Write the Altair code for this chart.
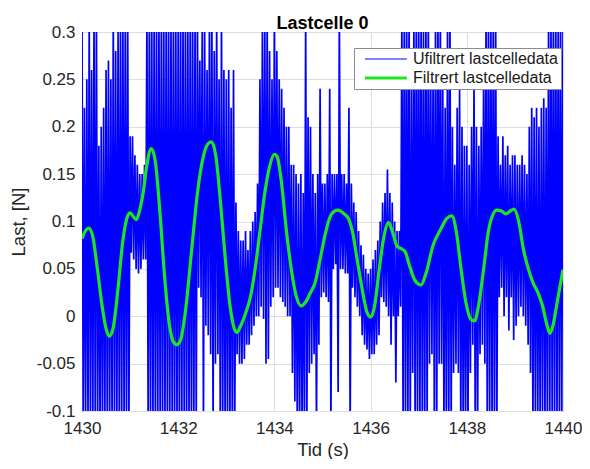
import altair as alt
import pandas as pd

# ---------------- data ----------------
T0 = 1430.0      # first sample bin (s)
DT = 0.05        # bin width (s)

# unfiltered signal: max / min per 0.05 s bin (values past the axis are clipped)
hi_1430 = [0.32, 0.22, 0.25, 0.32, 0.26, 0.32, 0.32, 0.18, 0.20, 0.22,
           0.26, 0.27, 0.25, 0.32, 0.28, 0.30, 0.32, 0.32, 0.32, 0.32]
lo_1430 = [-0.12] * 20
hi_1431 = [0.19, 0.19, 0.17, 0.16, 0.15, 0.15, 0.16, 0.32, 0.32, 0.32,
           0.32, 0.32, 0.32, 0.32, 0.32, 0.32, 0.32, 0.32, 0.32, 0.32]
lo_1431 = [0.067, 0.06, 0.05, 0.045, 0.05, 0.06, 0.06, -0.12, -0.12, -0.12,
           -0.12, -0.12, -0.12, -0.12, -0.12, -0.12, -0.12, -0.12, -0.12, -0.12]
hi_1432 = [0.32, 0.32, 0.32, 0.32, 0.32, 0.32, 0.32, 0.32, 0.32, 0.27,
           0.32, 0.30, 0.26, 0.32, 0.32, 0.28, 0.32, 0.25, 0.32, 0.26]
lo_1432 = [-0.12, -0.12, -0.12, -0.12, -0.12, -0.12, -0.12, -0.12, 0.03, 0.02,
           -0.12, -0.01, -0.02, -0.04, -0.12, -0.05, -0.04, -0.12, -0.12, -0.12]
hi_1433 = [0.25, 0.26, 0.22, 0.26, 0.12, 0.09, 0.08, 0.08, 0.09, 0.07,
           0.09, 0.10, 0.11, 0.14, 0.25, 0.30, 0.32, 0.32, 0.28, 0.25]
lo_1433 = [-0.12, -0.12, -0.12, -0.12, -0.04, -0.05, -0.05, -0.045, -0.03, -0.03,
           -0.02, -0.01, 0.0, 0.0, 0.01, -0.003, -0.05, -0.045, 0.01, 0.02]
hi_1434 = [0.32, 0.28, 0.25, 0.24, 0.22, 0.20, 0.20, 0.16, 0.16, 0.15,
           0.14, 0.15, 0.13, 0.32, 0.21, 0.20, 0.15, 0.13, 0.15, 0.24]
lo_1434 = [0.03, 0.03, 0.02, 0.015, 0.01, 0.0, 0.0, -0.06, -0.09, -0.12,
           -0.12, -0.12, -0.12, -0.12, -0.06, -0.05, -0.04, -0.12, -0.03, 0.02]
hi_1435 = [0.14, 0.14, 0.15, 0.24, 0.15, 0.15, 0.15, 0.32, 0.15, 0.15,
           0.14, 0.22, 0.14, 0.12, 0.11, 0.09, 0.075, 0.065, 0.05, 0.045]
lo_1435 = [0.025, 0.02, 0.015, -0.12, 0.05, 0.055, -0.08, 0.05, 0.05, 0.045,
           0.045, -0.12, 0.03, 0.02, 0.01, 0.0, -0.02, -0.03, -0.035, -0.045]
hi_1436 = [0.05, 0.06, 0.07, 0.08, 0.10, 0.12, 0.13, 0.155, 0.13, 0.12,
           0.10, 0.09, 0.09, 0.32, 0.32, 0.32, 0.32, 0.25, 0.32, 0.32]
lo_1436 = [-0.04, -0.04, -0.03, -0.02, 0.02, 0.015, 0.01, 0.0, -0.03, 0.0,
           -0.07, 0.0, 0.01, -0.12, -0.12, -0.12, -0.12, -0.06, -0.12, -0.12]
hi_1437 = [0.32, 0.32, 0.30, 0.32, 0.32, 0.26, 0.28, 0.32, 0.32, 0.32,
           0.25, 0.22, 0.32, 0.32, 0.20, 0.16, 0.22, 0.24, 0.20, 0.18]
lo_1437 = [-0.12, -0.12, -0.12, -0.12, -0.05, -0.04, -0.12, -0.12, -0.05, -0.05,
           -0.12, -0.12, -0.12, -0.12, -0.06, -0.05, -0.06, -0.12, -0.12, -0.12]
hi_1438 = [0.18, 0.16, 0.20, 0.25, 0.20, 0.18, 0.20, 0.26, 0.32, 0.32,
           0.32, 0.32, 0.32, 0.19, 0.16, 0.19, 0.17, 0.18, 0.16, 0.17]
lo_1438 = [-0.12, -0.06, -0.03, -0.12, -0.12, -0.04, -0.03, -0.05, -0.12, -0.12,
           -0.12, -0.12, -0.12, 0.02, 0.03, 0.0, 0.02, -0.015, 0.02, -0.025]
hi_1439 = [0.17, 0.16, 0.16, 0.17, 0.16, 0.15, 0.20, 0.22, 0.21, 0.22,
           0.20, 0.22, 0.23, 0.22, 0.32, 0.32, 0.32, 0.32, 0.32, 0.32]
lo_1439 = [-0.01, 0.0, 0.01, 0.0, -0.01, -0.03, -0.06, -0.12, -0.10, -0.12,
           -0.12, -0.10, -0.12, -0.12, -0.12, -0.12, -0.12, -0.12, -0.12, -0.12]
hi_end = [0.32]
lo_end = [-0.12]

blue_hi = (hi_1430 + hi_1431 + hi_1432 + hi_1433 + hi_1434 +
           hi_1435 + hi_1436 + hi_1437 + hi_1438 + hi_1439 + hi_end)
blue_lo = (lo_1430 + lo_1431 + lo_1432 + lo_1433 + lo_1434 +
           lo_1435 + lo_1436 + lo_1437 + lo_1438 + lo_1439 + lo_end)

# filtered signal
green_t = [1430.00, 1430.07, 1430.14, 1430.22, 1430.32, 1430.42, 1430.50, 1430.57,
           1430.65, 1430.75, 1430.85, 1430.95, 1431.00, 1431.07, 1431.13, 1431.20,
           1431.27, 1431.35, 1431.44, 1431.52, 1431.62, 1431.72, 1431.82, 1431.90,
           1431.97, 1432.05, 1432.15, 1432.28, 1432.40, 1432.53, 1432.62, 1432.69,
           1432.78, 1432.88, 1432.98, 1433.08, 1433.16, 1433.22, 1433.30, 1433.40,
           1433.50, 1433.60, 1433.70, 1433.80, 1433.90, 1434.00, 1434.06, 1434.15,
           1434.25, 1434.35, 1434.45, 1434.56, 1434.65, 1434.75, 1434.85, 1434.95,
           1435.05, 1435.15, 1435.25, 1435.32, 1435.45, 1435.54, 1435.62, 1435.72,
           1435.82, 1435.92, 1436.00, 1436.08, 1436.18, 1436.28, 1436.37, 1436.45,
           1436.55, 1436.65, 1436.72, 1436.80, 1436.92, 1437.05, 1437.15, 1437.30,
           1437.46, 1437.58, 1437.69, 1437.78, 1437.88, 1437.98, 1438.08, 1438.16,
           1438.24, 1438.35, 1438.45, 1438.55, 1438.62, 1438.72, 1438.81, 1438.90,
           1438.98, 1439.08, 1439.18, 1439.28, 1439.38, 1439.48, 1439.58, 1439.66,
           1439.73, 1439.80, 1439.88, 1439.95, 1440.00]
green_y = [0.082, 0.090, 0.093, 0.085, 0.050, 0.010, -0.013, -0.021,
           -0.012, 0.030, 0.080, 0.106, 0.109, 0.105, 0.102, 0.112,
           0.130, 0.160, 0.177, 0.165, 0.110, 0.040, -0.010, -0.027,
           -0.030, -0.025, 0.005, 0.070, 0.130, 0.170, 0.182, 0.184,
           0.170, 0.120, 0.060, 0.010, -0.012, -0.017, -0.010, 0.003,
           0.020, 0.050, 0.090, 0.130, 0.158, 0.171, 0.168, 0.140,
           0.090, 0.050, 0.022, 0.011, 0.015, 0.025, 0.036, 0.060,
           0.085, 0.104, 0.111, 0.112, 0.108, 0.103, 0.090, 0.060,
           0.030, 0.005, -0.001, 0.010, 0.050, 0.085, 0.099, 0.090,
           0.074, 0.071, 0.068, 0.055, 0.038, 0.033, 0.045, 0.075,
           0.092, 0.103, 0.106, 0.090, 0.050, 0.015, -0.003, -0.005,
           0.010, 0.050, 0.090, 0.108, 0.112, 0.111, 0.108, 0.111,
           0.113, 0.100, 0.070, 0.050, 0.035, 0.025, 0.010, -0.008,
           -0.018, -0.008, 0.015, 0.035, 0.049]

x_ticks = [1430, 1432, 1434, 1436, 1438, 1440]
y_ticks = [-0.1, -0.05, 0, 0.05, 0.1, 0.15, 0.2, 0.25, 0.3]

U = "Ufiltrert lastcelledata"
F = "Filtrert lastcelledata"

# ---------------- tables ----------------
rows = []
for i, (h, l) in enumerate(zip(blue_hi, blue_lo)):
    t = T0 + i * DT
    rows.append({"t": t, "y": h, "s": U})
    rows.append({"t": t + DT / 2, "y": l, "s": U})
blue_df = pd.DataFrame(rows)
green_df = pd.DataFrame({"t": green_t, "y": green_y, "s": F})

FONT = "Liberation Sans"

x_enc = alt.X("t:Q",
              scale=alt.Scale(domain=[1430, 1440], nice=False, zero=False),
              axis=alt.Axis(values=x_ticks, format="d", title="Tid (s)",
                            labelFlush=False, labelPadding=9, titlePadding=4))
y_enc = alt.Y("y:Q",
              scale=alt.Scale(domain=[-0.1, 0.3], nice=False, zero=False),
              axis=alt.Axis(values=y_ticks, title="Last, [N]", labelFlush=False,
                            labelExpr="datum.value < 0 ? '-' + format(-datum.value, '~g') : format(datum.value, '~g')",
                            labelPadding=7, titlePadding=8))
color_enc = alt.Color("s:N",
                      scale=alt.Scale(domain=[U, F], range=["#0000FF", "#1EE61E"]),
                      legend=alt.Legend(title=None))
sw_enc = alt.StrokeWidth("s:N",
                         scale=alt.Scale(domain=[U, F], range=[1.0, 3.2]),
                         legend=alt.Legend(title=None))

blue = alt.Chart(blue_df).mark_line(clip=True, strokeWidth=1.7).encode(
    x=x_enc, y=y_enc, color=color_enc)
green = alt.Chart(green_df).mark_line(interpolate="monotone", clip=True).encode(
    x=x_enc, y=y_enc, color=color_enc, strokeWidth=sw_enc)

chart = alt.layer(blue, green).properties(
    width=481, height=379,
    title=alt.TitleParams("Lastcelle 0", font=FONT, fontSize=18, fontWeight="bold",
                          color="#000000", anchor="middle", frame="group", offset=-10),
    padding={"left": 1, "top": 7, "right": 0, "bottom": 0},
).configure_view(
    stroke="#262626", strokeWidth=1
).configure_axis(
    grid=True, gridColor="#dedede", gridOpacity=1, gridWidth=1,
    domain=False, ticks=False,
    labelFont=FONT, labelFontSize=17, labelColor="#262626",
    titleFont=FONT, titleFontSize=18.5, titleFontWeight="normal", titleColor="#262626",
).configure_legend(
    orient="none", legendX=272, legendY=16, fillColor="#ffffff", strokeColor="#8c8c8c",
    padding=3, labelFont=FONT, labelFontSize=16, labelColor="#1a1a1a",
    symbolType="M0,0H10", symbolSize=70, labelOffset=40, rowPadding=3,
)

chart.save("out.html", embed_options={"renderer": "svg", "actions": False})
